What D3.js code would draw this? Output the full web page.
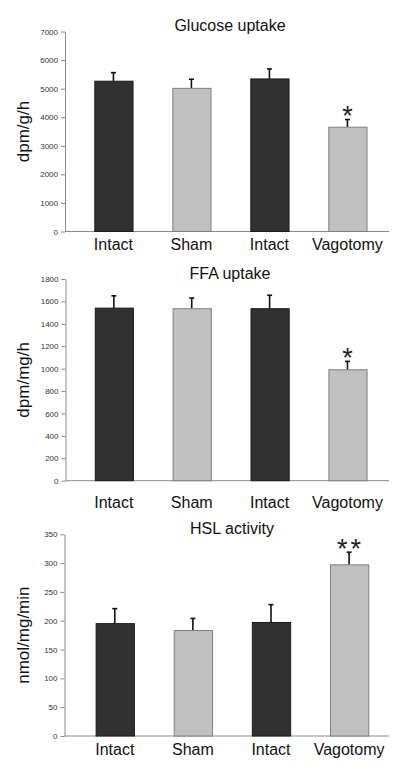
<!DOCTYPE html>
<html><head><meta charset="utf-8">
<script src="https://cdn.jsdelivr.net/npm/d3@7"></script>
<style>
html,body{margin:0;padding:0;background:#fff;}
svg{display:block;font-family:"Liberation Sans",Arial,sans-serif;}
</style></head>
<body>
<svg id="chart" width="405" height="776"></svg>
<script>
// ---- data ----
const categories = ["Intact", "Sham", "Intact", "Vagotomy"];
const groupKind = ["dark", "light", "dark", "light"];

const glucoseMean = [5260, 5010, 5340, 3650];
const glucoseErr  = [300, 320, 350, 270];
const glucoseSig  = ["", "", "", "*"];
const glucoseTicks = [0, 1000, 2000, 3000, 4000, 5000, 6000, 7000];

const ffaMean = [1540, 1535, 1535, 990];
const ffaErr  = [110, 95, 120, 75];
const ffaSig  = ["", "", "", "*"];
const ffaTicks = [0, 200, 400, 600, 800, 1000, 1200, 1400, 1600, 1800];

const hslMean = [195, 183, 197, 297];
const hslErr  = [26, 21, 31, 22];
const hslSig  = ["", "", "", "**"];
const hslTicks = [0, 50, 100, 150, 200, 250, 300, 350];

const titles = ["Glucose uptake", "FFA uptake", "HSL activity"];
const yLabels = ["dpm/g/h", "dpm/mg/h", "nmol/mg/min"];

// ---- layout ----
const panels = [
  {mean: glucoseMean, err: glucoseErr, sig: glucoseSig, ticks: glucoseTicks, title: titles[0], ylab: yLabels[0],
   y0: 231.5, y1: 31.5, ax: 65, titleY: 30.5, titleX: 230, xlabY: 250},
  {mean: ffaMean, err: ffaErr, sig: ffaSig, ticks: ffaTicks, title: titles[1], ylab: yLabels[1],
   y0: 480.7, y1: 279, ax: 65.5, titleY: 279, titleX: 230, xlabY: 508},
  {mean: hslMean, err: hslErr, sig: hslSig, ticks: hslTicks, title: titles[2], ylab: yLabels[2],
   y0: 736, y1: 534.3, ax: 64.5, titleY: 534, titleX: 232, xlabY: 755},
];

const fills = {dark: "#313131", light: "#c0c0c0"};
const strokes = {dark: "#1a1a1a", light: "#7f7f7f"};

const svg = d3.select("#chart");

panels.forEach((p, pi) => {
  const g = svg.append("g");
  const idx = d3.range(categories.length);
  const x = d3.scaleBand().domain(idx).range([p.ax, 389])
    .paddingInner(0.51).paddingOuter(0.332).align(pi === 2 ? 0.6 : 0.566);
  const y = d3.scaleLinear().domain([0, p.ticks[p.ticks.length - 1]]).range([p.y0, p.y1]);

  // y axis
  const yAxis = d3.axisLeft(y).tickValues(p.ticks).tickFormat(d3.format("d"))
    .tickSize(4).tickPadding(3).tickSizeOuter(0);
  const ya = g.append("g").attr("transform", `translate(${p.ax},0)`).call(yAxis);
  ya.select(".domain").attr("stroke", "#8a8a8a");
  ya.selectAll(".tick line").attr("stroke", "#8a8a8a");
  ya.selectAll(".tick text").attr("fill", "#333").style("font-size", "8px")
    .style("font-family", "'Liberation Sans',Arial,sans-serif");

  // x axis line
  g.append("line").attr("x1", p.ax).attr("x2", 389).attr("y1", y(0)).attr("y2", y(0))
    .attr("stroke", "#8a8a8a").attr("stroke-width", 1);

  // error bars (upper only)
  idx.forEach(i => {
    const cx = x(i) + x.bandwidth() / 2;
    const top = y(p.mean[i] + p.err[i]);
    g.append("line").attr("x1", cx).attr("x2", cx).attr("y1", y(p.mean[i])).attr("y2", top)
      .attr("stroke", "#111").attr("stroke-width", 1.6);
    g.append("line").attr("x1", cx - 2.5).attr("x2", cx + 2.5).attr("y1", top).attr("y2", top)
      .attr("stroke", "#111").attr("stroke-width", 1.6);
    if (p.sig[i]) {
      g.append("text").attr("x", cx + (p.sig[i].length > 1 ? 1.5 : 0)).attr("y", top + 5.5)
        .attr("text-anchor", "middle").attr("fill", "#222")
        .style("font-size", "27px").style("letter-spacing", p.sig[i].length > 1 ? "3px" : "0px")
        .text(p.sig[i]);
    }
  });

  // bars
  g.selectAll("rect.bar").data(idx).enter().append("rect")
    .attr("class", "bar")
    .attr("x", i => x(i) + 0.5)
    .attr("width", x.bandwidth())
    .attr("y", i => y(p.mean[i]))
    .attr("height", i => y(0) - y(p.mean[i]))
    .attr("fill", i => fills[groupKind[i]])
    .attr("stroke", i => strokes[groupKind[i]])
    .attr("stroke-width", 1);

  // category labels
  g.selectAll("text.cat").data(idx).enter().append("text")
    .attr("class", "cat")
    .attr("x", i => x(i) + x.bandwidth() / 2)
    .attr("y", p.xlabY)
    .attr("text-anchor", "middle").attr("fill", "#111")
    .style("font-size", "16px")
    .text(i => categories[i]);

  // title
  g.append("text").attr("x", p.titleX).attr("y", p.titleY).attr("text-anchor", "middle")
    .attr("fill", "#111").style("font-size", "16px").text(p.title);

  // y label
  const cy = (p.y0 + p.y1) / 2;
  g.append("text").attr("transform", `translate(29,${cy}) rotate(-90)`)
    .attr("text-anchor", "middle").attr("fill", "#111").style("font-size", "17px")
    .text(p.ylab);
});
</script>
</body></html>
